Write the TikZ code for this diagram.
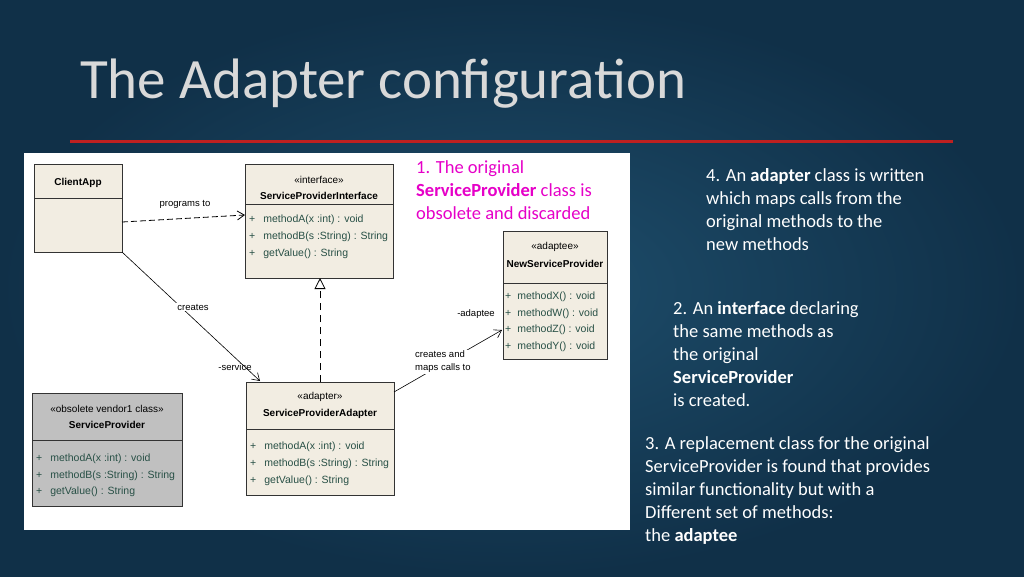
\documentclass[tikz,border=0pt]{standalone}
\usepackage{fontspec}
\setmainfont{Carlito}
\newfontfamily\umlfont{Liberation Sans}
\usetikzlibrary{arrows.meta}
\definecolor{bgA}{RGB}{30,78,108}
\definecolor{bgB}{RGB}{16,48,72}
\definecolor{boxfill}{RGB}{242,237,226}
\definecolor{grayfill}{RGB}{192,192,192}
\definecolor{methc}{RGB}{40,80,70}
\definecolor{redline}{RGB}{190,32,32}
\definecolor{magtext}{RGB}{230,0,200}
\begin{document}
\begin{tikzpicture}[x=1pt,y=-1pt,
  cls/.style={draw=black!80,line width=0.9pt,fill=boxfill},
  umlt/.style={font=\umlfont\fontsize{10}{11}\selectfont,inner sep=1pt},
  umlb/.style={font=\umlfont\bfseries\fontsize{10}{11}\selectfont,inner sep=1pt},
  meth/.style={font=\umlfont\fontsize{10.5}{11}\selectfont,text=methc,anchor=west,inner sep=1pt},
  lbl/.style={font=\umlfont\fontsize{9.5}{10}\selectfont,inner sep=1pt},
  side/.style={font=\fontsize{18.5}{23}\selectfont,text=white,anchor=north west,align=left,inner sep=0pt},
  opena/.style={-{Straight Barb[length=7pt,width=9pt]}}]
\useasboundingbox (0,0) rectangle (1024,576);
\shade[inner color=bgA,outer color=bgB] (0,0) rectangle (1024,576);
\node[anchor=west,text=black!15!white,font=\fontsize{57}{60}\selectfont,inner sep=0pt] (title) at (80,84) {The Adapter configuration};
\draw[redline,line width=3pt] (70,141) -- (953,141);
\fill[white] (24,153) rectangle (630,530);
% ClientApp
\draw[cls] (34,164) rectangle (122,252); \draw[black!80] (34,198)--(122,198);
\node[umlb] (ca) at (78,183) {ClientApp};
\coordinate (caR) at (122,222); \coordinate (caC) at (122,252);
% SPI
\draw[cls] (245,164) rectangle (393,278); \draw[black!80] (245,204)--(393,204);
\node[umlt] at (319,180) {«interface»};
\node[umlb] (spi) at (319,196) {ServiceProviderInterface};
\foreach \y/\t in {220/methodA(x :int) : void,237/methodB(s :String) : String,254/getValue() : String}{
 \node[meth] at (248,\y) {+\hspace{8pt}\t};}
\coordinate (spiL) at (245,215); \coordinate (spiB) at (320,278);
% NSP
\draw[cls] (503,231) rectangle (607,359); \draw[black!80] (503,283)--(607,283);
\node[umlt] at (555,247) {«adaptee»};
\node[umlb] (nsp) at (555,264) {NewServiceProvider};
\foreach \y/\t in {297/methodX() : void,314/methodW() : void,330/methodZ() : void,347/methodY() : void}{
 \node[meth] at (504,\y) {+\hspace{6pt}\t};}
\coordinate (nspL) at (502,330);
% Adapter
\draw[cls] (246,382) rectangle (394,495); \draw[black!80] (246,429)--(394,429);
\node[umlt] at (320,397) {«adapter»};
\node[umlb] (spa) at (320,414) {ServiceProviderAdapter};
\foreach \y/\t in {447/methodA(x :int) : void,464/methodB(s :String) : String,481/getValue() : String}{
 \node[meth] at (249,\y) {+\hspace{8pt}\t};}
\coordinate (spaT) at (320,382); \coordinate (spaC) at (260,381); \coordinate (spaR) at (394,392);
% Obsolete
\draw[draw=black!80,line width=0.9pt,fill=grayfill] (32,393) rectangle (182,506); \draw[black!80] (32,440)--(182,440);
\node[umlt] at (107,409) {«obsolete vendor1 class»};
\node[umlb] (sp) at (107,425) {ServiceProvider};
\foreach \y/\t in {459/methodA(x :int) : void,476/methodB(s :String) : String,492/getValue() : String}{
 \node[meth] at (35,\y) {+\hspace{8pt}\t};}
% connectors
\draw[dashed,dash pattern=on 6pt off 3pt,opena,line width=0.8pt] (caR) -- (spiL);
\node[lbl] at (185,204) {programs to};
\draw[opena,line width=0.6pt] (caC) -- (spaC);
\node[lbl,fill=white] at (193,307) {creates};
\node[lbl] at (235,367) {-service};
\draw[dashed,dash pattern=on 7pt off 5pt,line width=0.8pt,-{Triangle[open,length=11pt,width=11pt]}] (spaT) -- (spiB);
\draw[opena,line width=0.6pt] (spaR) -- (nspL);
\node[lbl,fill=white,align=left,anchor=west] at (414,362) {creates and\\[3pt]maps calls to};
\node[lbl] at (476,314) {-adaptee};
% side texts
\node[side,text=magtext] (t1) at (416,160) {1. The original\\\textbf{ServiceProvider} class is\\obsolete and discarded};
\node[side] (t4) at (706,168) {4. An \textbf{adapter} class is written\\which maps calls from the\\original methods to the\\new methods};
\node[side] (t2) at (673,301) {2. An \textbf{interface} declaring\\the same methods as\\the original\\\textbf{ServiceProvider}\\is created.};
\node[side] (t3) at (645,436) {3. A replacement class for the original\\ServiceProvider is found that provides\\similar functionality but with a\\Different set of methods:\\the \textbf{adaptee}};
\end{tikzpicture}
\end{document}
